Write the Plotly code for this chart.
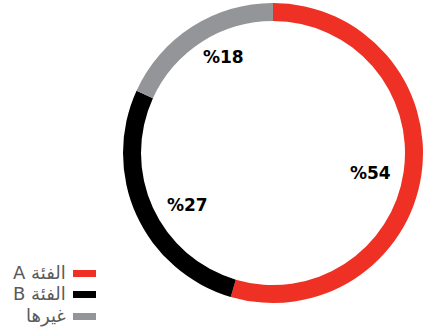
import math
import plotly.graph_objects as go

categories = ["الفئة A", "الفئة B", "غيرها"]
values = [54, 27, 18]
labels_txt = ["%54", "%27", "%18"]
colors = ["#EE3124", "#000000", "#939598"]
label_nudge = [(-1, 6), (5, 10), (5, -12)]  # pixel offsets of the percent labels

W, H = 425, 328
cx, cy, R = 273, 153, 150

fig = go.Figure(go.Pie(
    labels=categories, values=values, sort=False, direction="clockwise", rotation=0,
    hole=0.88, marker=dict(colors=colors, line=dict(width=0)),
    textinfo="none", hoverinfo="label+value", showlegend=False,
    domain=dict(x=[(cx - R) / W, (cx + R) / W], y=[1 - (cy + R) / H, 1 - (cy - R) / H]),
))

total = sum(values)
cum = 0
annos = []
for v, t, (nx, ny) in zip(values, labels_txt, label_nudge):
    mid = (cum + v / 2) / total * 2 * math.pi
    cum += v
    r = 100
    x = cx + r * math.sin(mid) + nx
    y = cy - r * math.cos(mid) + ny
    annos.append(dict(x=x / W, y=1 - y / H, xref="paper", yref="paper", text="<b>" + t + "</b>",
                      showarrow=False, font=dict(family="DejaVu Sans", size=17, color="#000000"),
                      xanchor="center", yanchor="middle"))

shapes = []
row_y = [273.5, 294.5, 316.5]
for cat, col, ry in zip(categories, colors, row_y):
    shapes.append(dict(type="rect", xref="paper", yref="paper", x0=73 / W, x1=96 / W,
                       y0=1 - (ry + 3.5) / H, y1=1 - (ry - 3.5) / H, fillcolor=col, line=dict(width=0)))
    annos.append(dict(x=68 / W, y=1 - (ry - 1) / H, xref="paper", yref="paper",
                      text="\u202b" + cat + "\u202c", showarrow=False,
                      font=dict(family="DejaVu Sans", size=18, color="#5a5a5a"),
                      xanchor="right", yanchor="middle"))

fig.update_layout(width=W, height=H, margin=dict(l=0, r=0, t=0, b=0), paper_bgcolor="white",
                  plot_bgcolor="white", annotations=annos, shapes=shapes)
fig.write_html("out.html")
